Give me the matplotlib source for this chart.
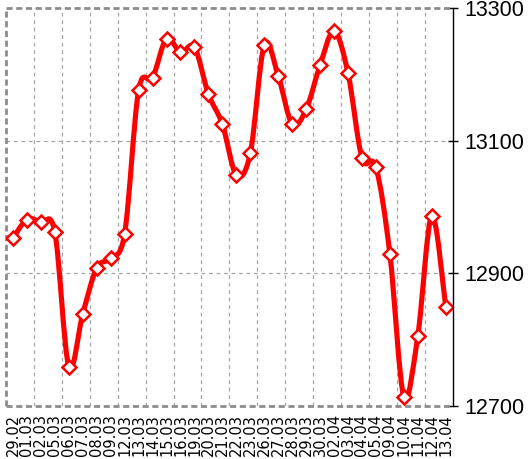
import matplotlib
matplotlib.use("Agg")
import matplotlib.pyplot as plt
from matplotlib.path import Path
from matplotlib.patches import PathPatch
import numpy as np

dates = ["29.02", "01.03", "02.03", "05.03", "06.03", "07.03", "08.03", "09.03",
         "12.03", "13.03", "14.03", "15.03", "16.03", "19.03", "20.03", "21.03",
         "22.03", "23.03", "26.03", "27.03", "28.03", "29.03", "30.03", "02.04",
         "03.04", "04.04", "05.04", "09.04", "10.04", "11.04", "12.04", "13.04"]

values = [12953, 12981, 12977, 12962, 12759, 12839, 12908, 12923,
          12960, 13176, 13195, 13254, 13233, 13241, 13170, 13125,
          13048, 13081, 13244, 13198, 13125, 13147, 13214, 13265,
          13202, 13074, 13060, 12929, 12714, 12806, 12987, 12850]

yticks = [12700, 12900, 13100, 13300]

W, H = 528, 459
fig = plt.figure(figsize=(W / 100, H / 100), dpi=100)
ax = fig.add_axes([6 / W, 1 - 406 / H, 446.7 / W, 398 / H])

x = np.arange(len(values), dtype=float)
y = np.array(values, dtype=float)

# smoothed line like excel (catmull-rom bezier through the points)
px = np.concatenate([[x[0]], x, [x[-1]]])
py = np.concatenate([[y[0]], y, [y[-1]]])
verts = [(x[0], y[0])]
codes = [Path.MOVETO]
for i in range(1, len(px) - 2):
    c1 = (px[i] + (px[i + 1] - px[i - 1]) / 6, py[i] + (py[i + 1] - py[i - 1]) / 6)
    c2 = (px[i + 1] - (px[i + 2] - px[i]) / 6, py[i + 1] - (py[i + 2] - py[i]) / 6)
    verts += [c1, c2, (px[i + 1], py[i + 1])]
    codes += [Path.CURVE4] * 3
patch = PathPatch(Path(verts, codes), fill=False, edgecolor="#ff0000", lw=3.7,
                  capstyle="round", joinstyle="round", zorder=3)
ax.add_patch(patch)
ax.plot(x, y, linestyle="none", marker="D", markersize=7.5, markerfacecolor="white",
        markeredgecolor="#ff0000", markeredgewidth=1.8, zorder=4)

ax.set_xlim(-0.5, len(values) - 0.5)
ax.set_ylim(12700, 13300)

# grid every two categories on the boundaries
for k in range(2, len(values), 2):
    ax.axvline(k - 0.5, color="#a6a6a6", lw=0.9, linestyle=(0, (3, 3)), zorder=1)
for v in [12900, 13100]:
    ax.axhline(v, color="#a6a6a6", lw=0.9, linestyle=(0, (3, 3)), zorder=1)

# plot area border, dashed gray on three sides
for s in ["left", "top", "bottom"]:
    ax.spines[s].set_visible(False)
border = dict(color="#8c8c8c", lw=2.0, linestyle=(0, (2.2, 1.3)), clip_on=False, zorder=2)
ax.plot([0, 0], [0, 1], transform=ax.transAxes, **border)
ax.plot([0, 1], [1, 1], transform=ax.transAxes, **border)
ax.plot([0, 1], [0, 0], transform=ax.transAxes, **border)
ax.spines["right"].set_color("black")
ax.spines["right"].set_linewidth(1.0)
ax.spines["right"].set_zorder(5)

ax.yaxis.tick_right()
ax.set_yticks(yticks)
ax.set_yticklabels([str(v) for v in yticks], fontsize=15.5, family="Liberation Sans")
ax.tick_params(axis="y", direction="inout", length=7, width=1, pad=5, right=True, left=False)

ax.set_xticks(x)
ax.set_xticklabels(dates, rotation=90, fontsize=10.5, family="DejaVu Sans")
ax.tick_params(axis="x", length=0, pad=6)

plt.savefig("out.png", dpi=100)
